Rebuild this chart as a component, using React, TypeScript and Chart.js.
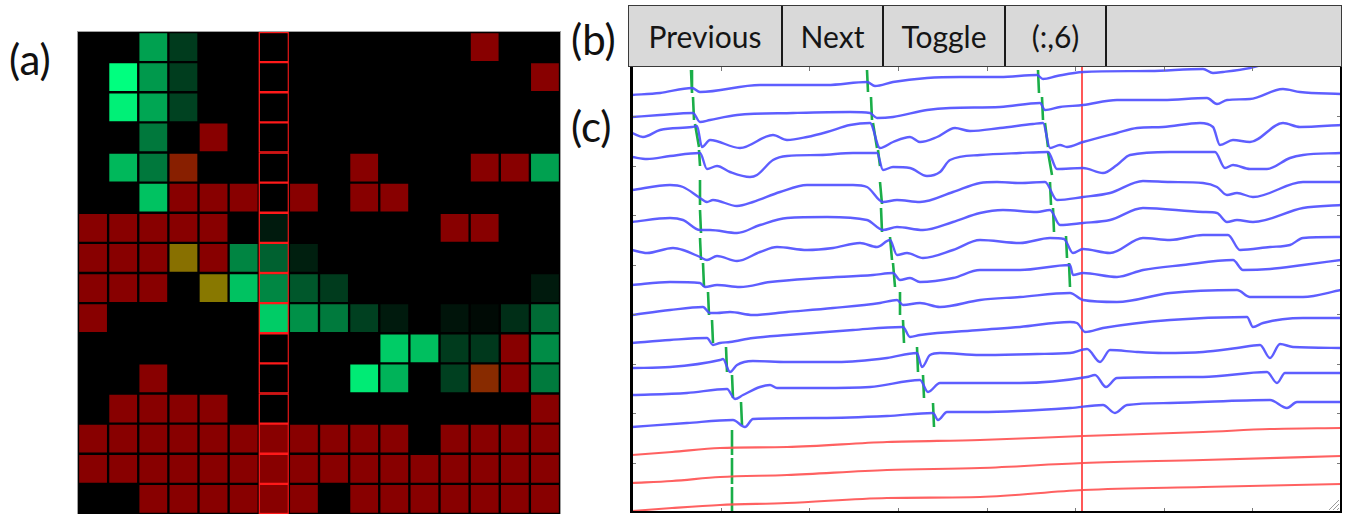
import React, { useEffect, useRef } from "react";
import { Chart, registerables } from "chart.js";
Chart.register(...registerables);

// ---------- Panel (a): heat map ----------
const HIGHLIGHT_COL = 6;
const columnLabels = ["1","2","3","4","5","6","7","8","9","10","11","12","13","14","15","16"];
// green intensity per cell (0..1)
const greenLevels: number[][] = [
  [0, 0, .63, .23, 0, 0, 0, 0, 0, 0, 0, 0, 0, 0, 0, 0],
  [0, 1, .6, .24, 0, 0, 0, 0, 0, 0, 0, 0, 0, 0, 0, 0],
  [0, .94, .65, .26, 0, 0, 0, 0, 0, 0, 0, 0, 0, 0, 0, 0],
  [0, 0, .47, 0, 0, 0, 0, 0, 0, 0, 0, 0, 0, 0, 0, 0],
  [0, .72, .47, .12, 0, 0, 0, 0, 0, 0, 0, 0, 0, 0, 0, .63],
  [0, 0, .76, 0, 0, 0, 0, 0, 0, 0, 0, 0, 0, 0, 0, 0],
  [0, 0, 0, 0, 0, 0, .1, 0, 0, 0, 0, 0, 0, 0, 0, 0],
  [0, 0, 0, .44, 0, .52, .38, .12, 0, 0, 0, 0, 0, 0, 0, 0],
  [0, 0, 0, 0, .47, .76, .53, .34, .23, 0, 0, 0, 0, 0, 0, .1],
  [0, 0, 0, 0, 0, 0, .8, .57, .48, .25, .1, 0, .08, .04, .18, .42],
  [0, 0, 0, 0, 0, 0, 0, 0, 0, 0, .8, .75, .23, .22, 0, .55],
  [0, 0, 0, 0, 0, 0, 0, 0, 0, .92, .7, 0, .25, .17, 0, .48],
  [0, 0, 0, 0, 0, 0, 0, 0, 0, 0, 0, 0, 0, 0, 0, 0],
  [0, 0, 0, 0, 0, 0, 0, 0, 0, 0, 0, 0, 0, 0, 0, 0],
  [0, 0, 0, 0, 0, 0, 0, 0, 0, 0, 0, 0, 0, 0, 0, 0],
  [0, 0, 0, 0, 0, 0, 0, 0, 0, 0, 0, 0, 0, 0, 0, 0],
];
// red flag per cell
const redRows: string[] = [
  "0000000000000100",
  "0000000000000001",
  "0000000000000000",
  "0000100000000000",
  "0001000001000110",
  "0001110101100000",
  "1111100000001100",
  "1111100000000000",
  "1110100000000000",
  "1000000000000000",
  "0000000000000010",
  "0010000000000110",
  "0111100000000001",
  "1111111111101111",
  "1111111111111111",
  "0011111101111111",
];

function cellColor(g: number, red: boolean): string {
  const G = Math.round(g * 255);
  if (red) return `rgb(136,${G},0)`;
  if (g > 0) return `rgb(0,${G},${Math.round(g * 127)})`;
  return "#000000";
}

// ---------- Panel (b): buttons ----------
const buttonLabels = ["Previous", "Next", "Toggle", "(:,6)", ""];
const buttonWidths = [154, 101, 122, 101, 0];

// ---------- Panel (c): traces (x in ms, y in offset units) ----------
const X_MAX = 709;
const Y_MAX = 445;
const X_TICKS = 8;
const Y_TICKS = 9;
const trace0 = [[0,417],[28,419],[60,424],[68,420],[128,427],[195,427],[235,430],[243,426],[261,430],[295,434],[328,435],[368,435],[405,437],[411,433],[425,436],[451,440],[518,441],[571,443],[581,439],[591,440],[618,444],[648,452],[709,458]];
const trace1 = [[0,395],[28,397],[61,399],[68,390],[78,392],[105,397],[161,399],[218,400],[238,399],[245,394],[261,395],[295,402],[318,404],[368,405],[408,409],[413,402],[428,405],[451,407],[485,412],[531,412],[575,414],[585,408],[595,412],[618,413],[651,423],[668,420],[709,418]];
const trace2 = [[0,379],[11,375],[28,382],[60,385],[65,386],[70,365],[78,372],[108,364],[141,377],[155,372],[175,375],[195,380],[218,387],[238,389],[248,364],[261,370],[278,375],[288,370],[305,375],[323,384],[338,381],[368,384],[401,388],[411,389],[418,364],[428,367],[435,365],[451,370],[485,379],[505,384],[531,385],[568,389],[581,385],[588,367],[601,372],[618,370],[651,389],[668,385],[709,387]];
const trace3 = [[0,355],[15,353],[38,356],[68,359],[75,343],[85,346],[98,340],[118,335],[125,337],[141,352],[155,356],[188,357],[221,359],[245,359],[251,342],[261,345],[278,344],[295,336],[308,340],[318,352],[348,357],[388,359],[416,360],[425,343],[451,344],[471,339],[485,347],[498,357],[538,360],[583,360],[593,344],[601,347],[618,343],[635,343],[658,354],[671,357],[709,359]];
const trace4 = [[0,322],[38,327],[51,325],[68,314],[75,310],[81,312],[105,306],[121,310],[148,320],[175,327],[221,327],[235,325],[251,310],[265,312],[288,310],[321,320],[348,329],[365,330],[388,329],[413,330],[425,312],[451,315],[478,319],[511,331],[538,330],[571,329],[585,325],[595,317],[605,319],[621,315],[671,330],[709,330]];
const trace5 = [[0,290],[38,294],[51,292],[68,282],[78,282],[105,279],[128,287],[155,294],[195,295],[235,292],[251,282],[265,285],[291,282],[321,290],[348,299],[371,302],[405,300],[418,302],[428,287],[451,289],[478,292],[511,304],[571,300],[585,299],[595,290],[605,292],[621,290],[671,304],[709,307]];
const trace6 = [[0,262],[15,259],[41,264],[51,262],[68,255],[75,252],[85,256],[105,251],[128,260],[145,265],[175,262],[201,264],[228,269],[245,265],[258,272],[265,257],[275,259],[291,254],[321,262],[348,272],[388,269],[418,274],[432,273],[441,259],[451,263],[478,259],[511,274],[538,272],[571,277],[596,277],[608,262],[638,265],[658,267],[671,274],[709,275]];
const trace7 = [[0,227],[38,230],[68,229],[73,225],[85,227],[108,225],[138,230],[188,234],[241,237],[261,239],[268,232],[278,234],[288,230],[321,234],[348,242],[388,242],[438,247],[441,237],[451,239],[485,235],[511,242],[551,247],[601,252],[611,242],[638,243],[671,247],[709,252]];
const trace8 = [[0,197],[38,202],[71,205],[78,199],[85,199],[98,200],[121,197],[155,200],[201,204],[248,209],[265,212],[271,207],[288,209],[308,205],[348,212],[388,215],[438,219],[451,212],[485,210],[538,219],[605,222],[618,215],[638,215],[671,215],[709,222]];
const trace9 = [[0,169],[38,172],[75,174],[81,167],[88,169],[98,170],[121,174],[155,177],[221,182],[271,185],[278,175],[288,177],[348,182],[388,185],[438,190],[445,189],[453,180],[471,184],[538,192],[615,195],[621,185],[631,189],[671,194],[709,194]];
const trace10 = [[0,144],[38,145],[88,152],[91,153],[98,140],[105,147],[121,151],[155,150],[205,150],[255,154],[285,159],[290,145],[298,157],[308,159],[348,157],[405,158],[438,159],[455,163],[468,150],[478,162],[505,160],[531,159],[571,160],[605,164],[628,167],[638,154],[648,168],[661,165],[709,164]];
const trace11 = [[0,117],[55,119],[95,123],[103,113],[111,117],[128,125],[138,127],[145,124],[188,124],[238,125],[288,132],[296,120],[308,129],[348,129],[388,129],[455,135],[463,137],[474,125],[485,134],[571,135],[635,140],[645,129],[653,139],[709,139]];
const trace12 = [[0,85],[55,89],[101,92],[113,85],[121,93],[188,94],[255,96],[301,99],[306,92],[315,100],[348,100],[438,104],[471,107],[483,99],[495,107],[538,109],[638,112],[655,104],[665,110],[709,110]];
const trace13 = [[0,57],[40,60],[88,64],[155,65],[255,70],[348,72],[451,76],[571,80],[638,83],[709,84]];
const trace14 = [[0,29],[40,31],[88,35],[155,37],[255,42],[348,44],[451,49],[571,52],[709,56]];
const trace15 = [[0,1],[40,4],[88,7],[155,9],[255,14],[348,15],[451,22],[571,25],[709,28]];
const blueTraces = [trace0, trace1, trace2, trace3, trace4, trace5, trace6, trace7, trace8, trace9, trace10, trace11, trace12];
const redTraces = [trace13, trace14, trace15];

// event markers: [xTop, yTop, xBottom, yBottom]
const markersA = [[59,442,60,419],[61,415,62,392],[63,388,67,365],[67,362,68,346],[68,332,68,307],[68,302,69,279],[68,274,69,252],[71,249,72,225],[76,220,77,197],[80,192,81,169],[94,165,95,140],[100,137,101,114],[109,110,110,87]];
const markersB = [[235,442,236,420],[239,415,240,392],[241,389,245,364],[246,362,248,346],[248,330,250,308],[249,304,250,280],[258,275,260,252],[261,249,263,225],[268,220,268,197],[271,192,272,169],[285,165,286,140],[291,137,292,114],[301,109,302,85]];
const markersC = [[406,442,407,419],[410,415,411,392],[413,389,416,365],[416,360,420,337],[418,330,419,307],[421,304,422,280],[434,276,435,254],[437,249,438,225]];
const markersRed = [[100,82,100,57],[100,54,100,28],[100,25,100,-3]];
const cursorX = 450;

const toPts = (arr: number[][]) => arr.map(([x, y]) => ({ x, y }));
const segPts = (arr: number[][]) => {
  const out: any[] = [];
  arr.forEach(([x1, y1, x2, y2]) => {
    out.push({ x: x1, y: y1 }, { x: x2, y: y2 }, { x: x2 + 0.01, y: null });
  });
  return out;
};

const framePlugin = {
  id: "frame",
  afterDraw(chart: any) {
    const { ctx, chartArea } = chart;
    const { left, right, top, bottom } = chartArea;
    const xs = chart.scales.x;
    const ys = chart.scales.y;
    ctx.save();
    ctx.strokeStyle = "#7a7a7a";
    ctx.lineWidth = 1;
    ctx.beginPath();
    for (let i = 1; i < X_TICKS; i++) {
      const px = Math.round(xs.getPixelForValue((X_MAX * i) / X_TICKS)) + 0.5;
      ctx.moveTo(px, top); ctx.lineTo(px, top + 4);
      ctx.moveTo(px, bottom); ctx.lineTo(px, bottom - 4);
    }
    for (let i = 1; i < Y_TICKS; i++) {
      const py = Math.round(ys.getPixelForValue((Y_MAX * i) / Y_TICKS)) + 0.5;
      ctx.moveTo(left, py); ctx.lineTo(left + 4, py);
      ctx.moveTo(right, py); ctx.lineTo(right - 4, py);
    }
    ctx.stroke();
    // resize grip
    ctx.strokeStyle = "#9a9a9a";
    ctx.beginPath();
    for (let k = 0; k < 3; k++) {
      ctx.moveTo(right - 4 - k * 4, bottom - 2);
      ctx.lineTo(right - 2, bottom - 4 - k * 4);
    }
    ctx.stroke();
    ctx.fillStyle = "#000";
    ctx.fillRect(left - 2, top, 3, bottom - top + 1);
    ctx.fillRect(right - 1, top, 2, bottom - top + 1);
    ctx.fillRect(left - 2, bottom - 1, right - left + 3, 2);
    ctx.restore();
  },
};

export default function App() {
  const heatRef = useRef<HTMLCanvasElement>(null);
  const traceRef = useRef<HTMLCanvasElement>(null);

  useEffect(() => {
    const heat = new Chart(heatRef.current!, {
      type: "bar",
      data: {
        labels: columnLabels,
        datasets: greenLevels.map((row, r) => ({
          data: row.map(() => 1),
          backgroundColor: row.map((g, c) => cellColor(g, redRows[r][c] === "1")),
          borderColor: row.map((_, c) => (c === HIGHLIGHT_COL ? "#ff1a1a" : "#000000")),
          borderWidth: 1.5,
          borderSkipped: false,
          barPercentage: 1,
          categoryPercentage: 1,
          stack: "s",
        })),
      },
      options: {
        animation: false,
        responsive: false,
        events: [],
        layout: { padding: 0 },
        plugins: { legend: { display: false }, tooltip: { enabled: false } },
        scales: {
          x: { stacked: true, display: false },
          y: { stacked: true, display: false, min: 0, max: 16, reverse: true },
        },
      },
    } as any);

    const datasets: any[] = [];
    blueTraces.forEach((t) =>
      datasets.push({ data: toPts(t), borderColor: "rgba(76,76,255,0.9)", borderWidth: 2.4, pointRadius: 0, cubicInterpolationMode: "monotone" })
    );
    redTraces.forEach((t) =>
      datasets.push({ data: toPts(t), borderColor: "rgba(255,80,80,0.9)", borderWidth: 2.1, pointRadius: 0, cubicInterpolationMode: "monotone" })
    );
    datasets.push({ data: [{ x: cursorX, y: -5 }, { x: cursorX, y: Y_MAX + 5 }], borderColor: "rgba(255,70,70,0.9)", borderWidth: 2, pointRadius: 0 });
    [markersA, markersB, markersC, markersRed].forEach((m) =>
      datasets.push({ data: segPts(m), borderColor: "#1aae48", borderWidth: 2.6, pointRadius: 0, spanGaps: false, tension: 0 })
    );

    const tr = new Chart(traceRef.current!, {
      type: "line",
      data: { datasets },
      options: {
        animation: false,
        responsive: false,
        events: [],
        layout: { padding: { left: 4, right: 3, top: 3, bottom: 2 } },
        plugins: { legend: { display: false }, tooltip: { enabled: false } },
        scales: {
          x: { type: "linear", min: 0, max: X_MAX, display: false },
          y: { type: "linear", min: 0, max: Y_MAX, display: false },
        },
      },
      plugins: [framePlugin],
    } as any);

    return () => {
      heat.destroy();
      tr.destroy();
    };
  }, []);

  const font = "Lato, 'Noto Sans', sans-serif";
  const label = (text: string, left: number, top: number) => (
    <div style={{ position: "absolute", left, top, fontFamily: font, fontSize: 42, lineHeight: "42px", color: "#111" }}>{text}</div>
  );

  return (
    <div style={{ position: "fixed", left: 0, top: 0, width: 1349, height: 514, background: "#fff", overflow: "hidden" }}>
      {label("(a)", 9, 38)}
      {label("(b)", 571, 18)}
      {label("(c)", 571, 105)}
      <div style={{ position: "absolute", left: 77, top: 31, width: 482, height: 484, border: "1px solid #a0a0a0", borderBottom: "none", background: "#000" }}>
        <canvas ref={heatRef} width={482} height={482} style={{ display: "block", width: 482, height: 482 }} />
      </div>
      <canvas ref={traceRef} width={716} height={450} style={{ position: "absolute", left: 628, top: 64, width: 716, height: 450 }} />
      <div style={{ position: "absolute", left: 628, top: 5, width: 712, height: 60, border: "1px solid #3a3a3a", background: "#d9d9d9", display: "flex", zIndex: 2 }}>
        {buttonLabels.map((b, i) => (
          <div
            key={i}
            style={{
              width: buttonWidths[i] || undefined,
              flex: buttonWidths[i] ? "none" : 1,
              borderRight: i < buttonLabels.length - 1 ? "2px solid #1a1a1a" : "none",
              display: "flex",
              alignItems: "center",
              justifyContent: "center",
              fontFamily: font,
              fontSize: 30,
              color: "#151515",
              boxSizing: "border-box",
            }}
          >
            {b}
          </div>
        ))}
      </div>
    </div>
  );
}
